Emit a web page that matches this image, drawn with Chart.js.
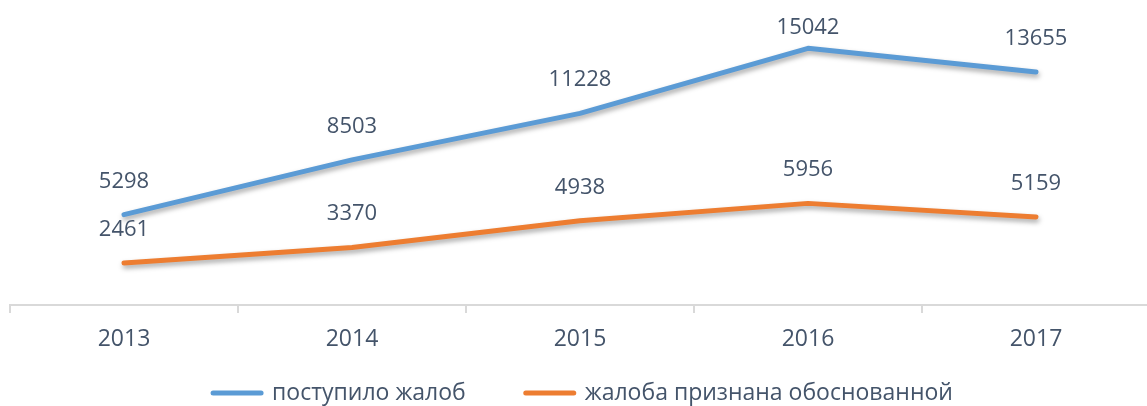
<!DOCTYPE html>
<html>
<head>
<meta charset="utf-8">
<script src="https://cdn.jsdelivr.net/npm/chart.js@4.4.1/dist/chart.umd.min.js"></script>
<style>
html,body{margin:0;padding:0;background:#fff;overflow:hidden;}
.wrap{width:1150px;height:406px;position:relative;}
</style>
</head>
<body>
<div class="wrap"><canvas id="myChart"></canvas></div>
<script>
const years=['2013','2014','2015','2016','2017'];
const received=[5298,8503,11228,15042,13655];
const justified=[2461,3370,4938,5956,5159];
const seriesNames=['поступило жалоб','жалоба признана обоснованной'];

const textColor='#44546A';
const fontFamily='"Open Sans", sans-serif';

// value labels above the points, kept inside the plot like excel does
const pointLabels={
    id:'pointLabels',
    afterDatasetsDraw(chart){
        const ctx=chart.ctx;
        ctx.save();
        ctx.font='22px '+fontFamily;
        ctx.fillStyle=textColor;
        ctx.textAlign='center';
        ctx.textBaseline='alphabetic';
        chart.data.datasets.forEach((ds,i)=>{
            chart.getDatasetMeta(i).data.forEach((pt,j)=>{
                ctx.fillText(ds.data[j],pt.x,Math.max(pt.y-27,34));
            });
        });
        ctx.restore();
    }
};

// soft shadow under lines
const lineShadow={
    id:'lineShadow',
    beforeDatasetDraw(chart){
        const ctx=chart.ctx;
        ctx.save();
        ctx.shadowColor='rgba(0,0,0,0.35)';
        ctx.shadowBlur=5;
        ctx.shadowOffsetX=1;
        ctx.shadowOffsetY=3;
    },
    afterDatasetDraw(chart){
        chart.ctx.restore();
    }
};

// legend drawn by hand so the spacing matches the original
const bottomLegend={
    id:'bottomLegend',
    afterDraw(chart){
        const ctx=chart.ctx;
        const lineW=48, gapText=11, gapItem=60;
        ctx.save();
        ctx.font='23px '+fontFamily;
        ctx.textBaseline='middle';
        const items=chart.data.datasets.map(ds=>({text:ds.label,color:ds.borderColor,w:ctx.measureText(ds.label).width}));
        let total=0;
        items.forEach((it,i)=>{total+=lineW+gapText+it.w+(i>0?gapItem:0);});
        let x=(chart.chartArea.left+chart.chartArea.right)/2-total/2+3;
        const y=393;
        items.forEach(it=>{
            ctx.strokeStyle=it.color;
            ctx.lineWidth=5;
            ctx.lineCap='round';
            ctx.beginPath();
            ctx.moveTo(x,y);
            ctx.lineTo(x+lineW,y);
            ctx.stroke();
            ctx.fillStyle=textColor;
            ctx.fillText(it.text,x+lineW+gapText,y);
            x+=lineW+gapText+it.w+gapItem;
        });
        ctx.restore();
    }
};

const ctx=document.getElementById('myChart').getContext('2d');
const myChart=new Chart(ctx,{
    type:'line',
    data:{
        labels:years,
        datasets:[{
            label:seriesNames[0],
            data:received,
            borderColor:'#5B9BD5',
            backgroundColor:'#5B9BD5',
            borderWidth:5,
            borderCapStyle:'round',
            borderJoinStyle:'round',
            pointRadius:0,
            tension:0
        },{
            label:seriesNames[1],
            data:justified,
            borderColor:'#ED7D31',
            backgroundColor:'#ED7D31',
            borderWidth:5,
            borderCapStyle:'round',
            borderJoinStyle:'round',
            pointRadius:0,
            tension:0
        }]
    },
    options:{
        responsive:true,
        maintainAspectRatio:false,
        animation:false,
        layout:{padding:{left:10,right:0,top:32,bottom:40}},
        plugins:{
            legend:{display:false},
            tooltip:{enabled:false}
        },
        scales:{
            x:{
                offset:true,
                afterFit(scale){scale.height=61;},
                grid:{
                    offset:true,
                    drawOnChartArea:false,
                    drawTicks:true,
                    tickLength:8,
                    color:'#D9D9D9',
                    lineWidth:2
                },
                border:{display:true,color:'#D9D9D9',width:2},
                ticks:{
                    color:textColor,
                    font:{family:fontFamily,size:23},
                    padding:13
                }
            },
            y:{
                display:false,
                min:0,
                max:16000
            }
        }
    },
    plugins:[lineShadow,pointLabels,bottomLegend]
});
</script>
</body>
</html>
